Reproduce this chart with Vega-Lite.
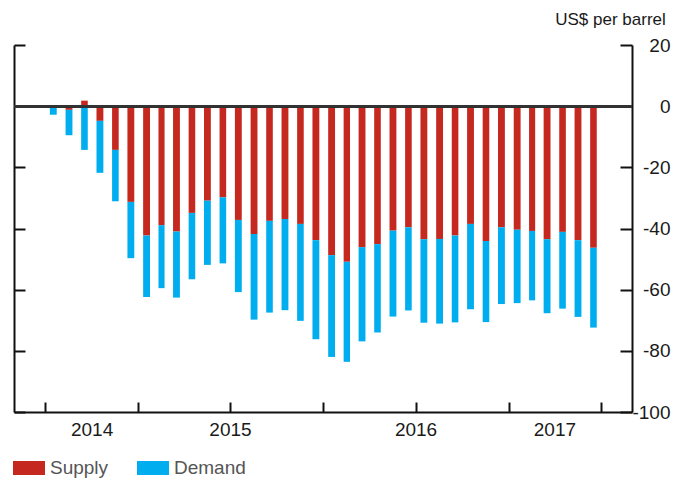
{
  "$schema": "https://vega.github.io/schema/vega-lite/v6.json",
  "width": 618,
  "height": 367,
  "autosize": {"type": "none"},
  "padding": {"left": 14, "top": 45, "right": 54, "bottom": 66},
  "config": {
    "view": {"stroke": null},
    "font": "Liberation Sans",
    "axis": {
      "grid": false,
      "domainColor": "#111111",
      "domainWidth": 2,
      "tickColor": "#111111",
      "tickWidth": 2,
      "labelColor": "#1a1a1a",
      "labelFontSize": 19,
      "titleColor": "#1a1a1a",
      "titleFontWeight": "normal"
    }
  },
  "data": {
    "values": [
      {"month": "2014-07-01", "type": "Supply", "value": 0},
      {"month": "2014-07-01", "type": "Demand", "value": -2.8},
      {"month": "2014-08-01", "type": "Supply", "value": -1.2},
      {"month": "2014-08-01", "type": "Demand", "value": -8.3},
      {"month": "2014-09-01", "type": "Supply", "value": 1.8},
      {"month": "2014-09-01", "type": "Demand", "value": -14.3},
      {"month": "2014-10-01", "type": "Supply", "value": -4.8},
      {"month": "2014-10-01", "type": "Demand", "value": -17.0},
      {"month": "2014-11-01", "type": "Supply", "value": -14.3},
      {"month": "2014-11-01", "type": "Demand", "value": -16.8},
      {"month": "2014-12-01", "type": "Supply", "value": -31.3},
      {"month": "2014-12-01", "type": "Demand", "value": -18.4},
      {"month": "2015-01-01", "type": "Supply", "value": -42.3},
      {"month": "2015-01-01", "type": "Demand", "value": -20.1},
      {"month": "2015-02-01", "type": "Supply", "value": -38.9},
      {"month": "2015-02-01", "type": "Demand", "value": -20.6},
      {"month": "2015-03-01", "type": "Supply", "value": -41.0},
      {"month": "2015-03-01", "type": "Demand", "value": -21.6},
      {"month": "2015-04-01", "type": "Supply", "value": -34.9},
      {"month": "2015-04-01", "type": "Demand", "value": -21.7},
      {"month": "2015-05-01", "type": "Supply", "value": -30.9},
      {"month": "2015-05-01", "type": "Demand", "value": -21.0},
      {"month": "2015-06-01", "type": "Supply", "value": -29.8},
      {"month": "2015-06-01", "type": "Demand", "value": -21.6},
      {"month": "2015-07-01", "type": "Supply", "value": -37.2},
      {"month": "2015-07-01", "type": "Demand", "value": -23.6},
      {"month": "2015-08-01", "type": "Supply", "value": -41.8},
      {"month": "2015-08-01", "type": "Demand", "value": -28.0},
      {"month": "2015-09-01", "type": "Supply", "value": -37.5},
      {"month": "2015-09-01", "type": "Demand", "value": -30.0},
      {"month": "2015-10-01", "type": "Supply", "value": -36.9},
      {"month": "2015-10-01", "type": "Demand", "value": -29.8},
      {"month": "2015-11-01", "type": "Supply", "value": -38.5},
      {"month": "2015-11-01", "type": "Demand", "value": -31.7},
      {"month": "2015-12-01", "type": "Supply", "value": -43.8},
      {"month": "2015-12-01", "type": "Demand", "value": -32.4},
      {"month": "2016-01-01", "type": "Supply", "value": -48.7},
      {"month": "2016-01-01", "type": "Demand", "value": -33.3},
      {"month": "2016-02-01", "type": "Supply", "value": -50.9},
      {"month": "2016-02-01", "type": "Demand", "value": -32.7},
      {"month": "2016-03-01", "type": "Supply", "value": -46.1},
      {"month": "2016-03-01", "type": "Demand", "value": -30.8},
      {"month": "2016-04-01", "type": "Supply", "value": -45.1},
      {"month": "2016-04-01", "type": "Demand", "value": -28.9},
      {"month": "2016-05-01", "type": "Supply", "value": -40.7},
      {"month": "2016-05-01", "type": "Demand", "value": -28.1},
      {"month": "2016-06-01", "type": "Supply", "value": -39.6},
      {"month": "2016-06-01", "type": "Demand", "value": -27.2},
      {"month": "2016-07-01", "type": "Supply", "value": -43.5},
      {"month": "2016-07-01", "type": "Demand", "value": -27.3},
      {"month": "2016-08-01", "type": "Supply", "value": -43.4},
      {"month": "2016-08-01", "type": "Demand", "value": -27.7},
      {"month": "2016-09-01", "type": "Supply", "value": -42.3},
      {"month": "2016-09-01", "type": "Demand", "value": -28.4},
      {"month": "2016-10-01", "type": "Supply", "value": -38.5},
      {"month": "2016-10-01", "type": "Demand", "value": -27.9},
      {"month": "2016-11-01", "type": "Supply", "value": -44.1},
      {"month": "2016-11-01", "type": "Demand", "value": -26.5},
      {"month": "2016-12-01", "type": "Supply", "value": -39.6},
      {"month": "2016-12-01", "type": "Demand", "value": -25.1},
      {"month": "2017-01-01", "type": "Supply", "value": -40.4},
      {"month": "2017-01-01", "type": "Demand", "value": -24.0},
      {"month": "2017-02-01", "type": "Supply", "value": -40.8},
      {"month": "2017-02-01", "type": "Demand", "value": -22.7},
      {"month": "2017-03-01", "type": "Supply", "value": -43.5},
      {"month": "2017-03-01", "type": "Demand", "value": -24.2},
      {"month": "2017-04-01", "type": "Supply", "value": -41.1},
      {"month": "2017-04-01", "type": "Demand", "value": -25.1},
      {"month": "2017-05-01", "type": "Supply", "value": -43.8},
      {"month": "2017-05-01", "type": "Demand", "value": -25.1},
      {"month": "2017-06-01", "type": "Supply", "value": -46.3},
      {"month": "2017-06-01", "type": "Demand", "value": -26.1}
    ]
  },
  "layer": [
    {
      "mark": {"type": "bar", "width": {"band": 0.5}},
      "encoding": {
        "x": {
          "field": "month",
          "timeUnit": "utcyearmonth",
          "type": "temporal",
          "scale": {
            "type": "utc",
            "domain": [
              {"year": 2014, "month": 5, "date": 1, "utc": true},
              {"year": 2017, "month": 9, "date": 1, "utc": true}
            ]
          },
          "axis": {
            "orient": "bottom",
            "title": null,
            "values": [
              {"year": 2014, "month": 7, "date": 1, "utc": true},
              {"year": 2014, "month": 10, "date": 1, "utc": true},
              {"year": 2015, "month": 1, "date": 1, "utc": true},
              {"year": 2015, "month": 7, "date": 1, "utc": true},
              {"year": 2016, "month": 1, "date": 1, "utc": true},
              {"year": 2016, "month": 7, "date": 1, "utc": true},
              {"year": 2017, "month": 1, "date": 1, "utc": true},
              {"year": 2017, "month": 4, "date": 1, "utc": true},
              {"year": 2017, "month": 7, "date": 1, "utc": true}
            ],
            "tickSize": -10,
            "tickOpacity": {
              "condition": {"test": "utcmonth(datum.value) == 9 || utcmonth(datum.value) == 3", "value": 0},
              "value": 1
            },
            "labelExpr": "(utcmonth(datum.value) == 9 || utcmonth(datum.value) == 3 || (utcmonth(datum.value) == 6 && (utcyear(datum.value) == 2015 || utcyear(datum.value) == 2016))) ? utcFormat(datum.value, '%Y') : ''",
            "labelOverlap": false,
            "labelFlush": false,
            "labelBound": false,
            "labelPadding": 18
          }
        },
        "y": {
          "field": "value",
          "type": "quantitative",
          "stack": "zero",
          "scale": {"domain": [-100, 20], "nice": false},
          "axis": {
            "orient": "left",
            "title": null,
            "labels": false,
            "values": [-100, -80, -60, -40, -20, 0, 20],
            "tickSize": -11
          }
        },
        "color": {
          "field": "type",
          "type": "nominal",
          "scale": {"domain": ["Supply", "Demand"], "range": ["#C4281F", "#00AEEF"]},
          "legend": {
            "title": null,
            "orient": "none",
            "direction": "horizontal",
            "legendX": -1,
            "legendY": 407,
            "symbolType": "M-1,-0.4375H1V0.4375H-1Z",
            "symbolSize": 1024,
            "symbolStrokeWidth": 0,
            "labelFontSize": 19,
            "labelColor": "#555555",
            "labelOffset": 5,
            "columnPadding": 28
          }
        },
        "order": {"field": "type", "sort": "descending"}
      }
    },
    {
      "mark": {"type": "rule", "color": "#333333", "strokeWidth": 2},
      "encoding": {
        "y": {
          "datum": 0,
          "type": "quantitative",
          "scale": {"domain": [-100, 20], "nice": false},
          "axis": {
            "orient": "right",
            "title": "US$ per barrel",
            "titleAngle": 0,
            "titleX": -22,
            "titleY": -21,
            "titleAlign": "center",
            "titleBaseline": "alphabetic",
            "titleFontSize": 17,
            "values": [-100, -80, -60, -40, -20, 0, 20],
            "tickSize": -12,
            "labelAlign": "right",
            "labelExpr": "toString(datum.value)",
            "labelPadding": 50
          }
        }
      }
    }
  ],
  "resolve": {"axis": {"y": "independent"}}
}
